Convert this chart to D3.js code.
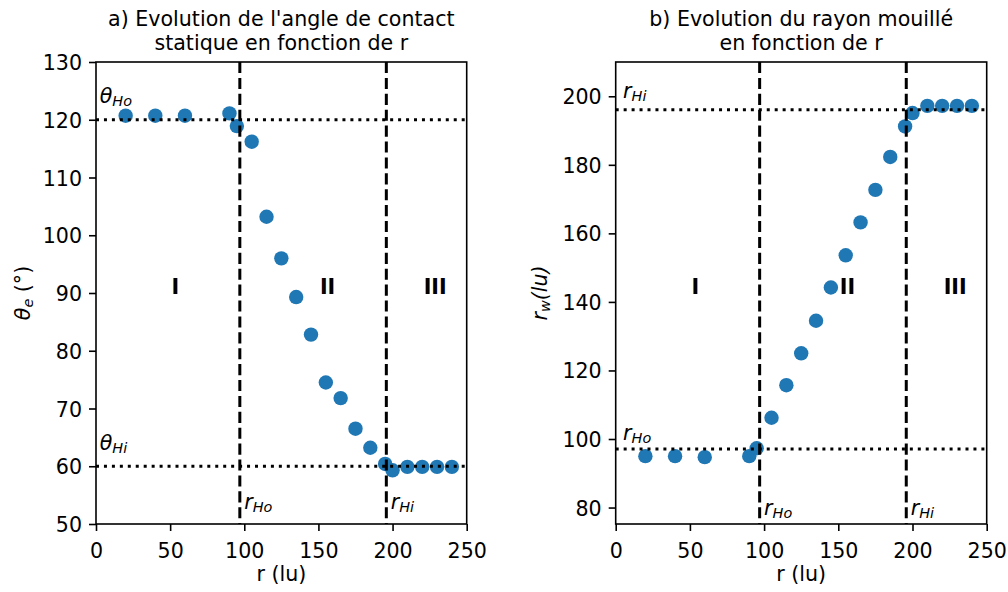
<!DOCTYPE html>
<html>
<head>
<meta charset="utf-8">
<script src="https://cdn.jsdelivr.net/npm/d3@7"></script>
<style>
  body { margin: 0; background: #fff; }
  text { font-family: "DejaVu Sans", sans-serif; fill: #000; }
</style>
</head>
<body>
<div id="chart"></div>
<script>
// ---------------------------
// Data
// ---------------------------
const rValues = [20, 40, 60, 90, 95, 105, 115, 125, 135, 145, 155, 165, 175, 185, 195, 200, 210, 220, 230, 240];
const thetaValues = [120.7, 120.7, 120.7, 121.1, 118.9, 116.2, 103.2, 96.0, 89.3, 82.8, 74.5, 71.8, 66.5, 63.2, 60.4, 59.3, 59.9, 59.9, 59.9, 59.9];
const wetRadius = [95.0, 95.0, 94.7, 95.0, 97.3, 106.2, 115.7, 125.0, 134.5, 144.2, 153.6, 163.2, 172.7, 182.3, 191.2, 195.1, 197.2, 197.2, 197.2, 197.2];

const rHo = 97;
const rHi = 195.8;
const thetaHo = 120;
const thetaHi = 60;
const rwHo = 97.1;
const rwHi = 196.1;

const xTicks = [0, 50, 100, 150, 200, 250];
const thetaTicks = [50, 60, 70, 80, 90, 100, 110, 120, 130];
const rwTicks = [80, 100, 120, 140, 160, 180, 200];

const regionLabels = ["I", "II", "III"];
const regionX = [51, 151, 221];

const titleA = ["a) Evolution de l'angle de contact", "statique en fonction de r"];
const titleB = ["b) Evolution du rayon mouillé", "en fonction de r"];

// ---------------------------
// Layout
// ---------------------------
const width = 1008;
const height = 592;
const plotTop = 62, plotBottom = 524;
const fs = 20.6;
const blue = "#1f77b4";

const svg = d3.select("#chart")
  .append("svg")
  .attr("width", width)
  .attr("height", height)
  .attr("viewBox", [0, 0, width, height]);

// mathtext-ish label: parts = [{t, sub, it}]
function mathText(sel, parts, size) {
  let shift = 0;
  parts.forEach(p => {
    const target = p.sub ? 3 : 0;
    sel.append("tspan")
      .attr("dy", target - shift)
      .attr("font-size", p.sub ? size * 0.7 : size)
      .attr("font-style", p.it ? "italic" : "normal")
      .text(p.t);
    shift = target;
  });
  return sel;
}

function panel(cfg) {
  const x = d3.scaleLinear().domain([0, 250]).range([cfg.left, cfg.right]);
  const y = d3.scaleLinear().domain(cfg.yDomain).range([plotBottom, plotTop]);
  const g = svg.append("g");

  // points
  g.append("g")
    .selectAll("circle")
    .data(rValues.map((r, i) => [r, cfg.values[i]]))
    .join("circle")
    .attr("cx", d => x(d[0]))
    .attr("cy", d => y(d[1]))
    .attr("r", 7.2)
    .attr("fill", blue);

  // horizontal dotted lines
  g.append("g")
    .selectAll("line")
    .data(cfg.hLevels)
    .join("line")
    .attr("x1", cfg.left).attr("x2", cfg.right)
    .attr("y1", d => y(d)).attr("y2", d => y(d))
    .attr("stroke", "#000")
    .attr("stroke-width", 3)
    .attr("stroke-dasharray", "3,4.95");

  // vertical dashed lines
  g.append("g")
    .selectAll("line")
    .data([rHo, rHi])
    .join("line")
    .attr("x1", d => x(d)).attr("x2", d => x(d))
    .attr("y1", plotTop).attr("y2", plotBottom)
    .attr("stroke", "#000")
    .attr("stroke-width", 3)
    .attr("stroke-dasharray", "11.1,4.8");

  // axes
  const xAxis = g.append("g")
    .attr("transform", `translate(0,${plotBottom})`)
    .call(d3.axisBottom(x).tickValues(xTicks).tickSize(7).tickPadding(7).tickFormat(d3.format("d")));
  const yAxis = g.append("g")
    .attr("transform", `translate(${cfg.left},0)`)
    .call(d3.axisLeft(y).tickValues(cfg.yTicks).tickSize(7).tickPadding(7).tickFormat(d3.format("d")));
  [xAxis, yAxis].forEach(a => {
    a.select(".domain").remove();
    a.selectAll(".tick line").attr("stroke", "#000").attr("stroke-width", 1.6);
    a.selectAll(".tick text").attr("font-size", fs).attr("font-family", "DejaVu Sans").attr("fill", "#000");
  });
  xAxis.selectAll(".tick text").attr("dy", null).attr("y", 33.5);
  yAxis.selectAll(".tick text").attr("dy", null).attr("y", 7.5);

  // frame
  g.append("rect")
    .attr("x", cfg.left).attr("y", plotTop)
    .attr("width", cfg.right - cfg.left).attr("height", plotBottom - plotTop)
    .attr("fill", "none").attr("stroke", "#000").attr("stroke-width", 1.6);

  // region labels
  g.append("g")
    .selectAll("text")
    .data(regionLabels)
    .join("text")
    .attr("x", (d, i) => x(regionX[i]))
    .attr("y", (plotBottom + plotTop) / 2 + 0.5)
    .attr("font-size", fs)
    .attr("font-weight", "bold")
    .text(d => d);

  // annotations
  cfg.notes.forEach(n => {
    mathText(g.append("text").attr("x", x(n.x)).attr("y", y(n.y)), n.parts, fs);
  });

  // titles
  const cx = (cfg.left + cfg.right) / 2;
  g.selectAll(".title")
    .data(cfg.title)
    .join("text")
    .attr("class", "title")
    .attr("x", cx)
    .attr("y", (d, i) => 26 + i * 24)
    .attr("text-anchor", "middle")
    .attr("font-size", fs)
    .text(d => d);

  // x label
  g.append("text")
    .attr("x", cx)
    .attr("y", 581)
    .attr("text-anchor", "middle")
    .attr("font-size", fs)
    .text("r (lu)");

  // y label
  mathText(
    g.append("text")
      .attr("transform", `translate(${cfg.yLabelX},${(plotTop + plotBottom) / 2}) rotate(-90)`)
      .attr("text-anchor", "middle"),
    cfg.yLabel, fs);
}

const sub = t => ({ t, sub: true, it: true });
const it = t => ({ t, it: true });

panel({
  left: 96, right: 466.7,
  yDomain: [50, 130],
  yTicks: thetaTicks,
  values: thetaValues,
  hLevels: [thetaHo, thetaHi],
  title: titleA,
  yLabelX: 30,
  yLabel: [it("θ"), sub("e"), { t: " (°)" }],
  notes: [
    { x: 2.5, y: thetaHo + 2.9, parts: [it("θ"), sub("Ho")] },
    { x: 2.5, y: thetaHi + 2.9, parts: [it("θ"), sub("Hi")] },
    { x: rHo + 3, y: 52.6, parts: [it("r"), sub("Ho")] },
    { x: rHi + 3, y: 52.6, parts: [it("r"), sub("Hi")] }
  ]
});

panel({
  left: 615.7, right: 986.7,
  yDomain: [75.2, 210],
  yTicks: rwTicks,
  values: wetRadius,
  hLevels: [rwHo, rwHi],
  title: titleB,
  yLabelX: 547,
  yLabel: [it("r"), sub("w"), it("(lu)")],
  notes: [
    { x: 5, y: rwHi + 3.4, parts: [it("r"), sub("Hi")] },
    { x: 5, y: rwHo + 2.6, parts: [it("r"), sub("Ho")] },
    { x: rHo + 3, y: 77.8, parts: [it("r"), sub("Ho")] },
    { x: rHi + 3, y: 77.8, parts: [it("r"), sub("Hi")] }
  ]
});
</script>
</body>
</html>
